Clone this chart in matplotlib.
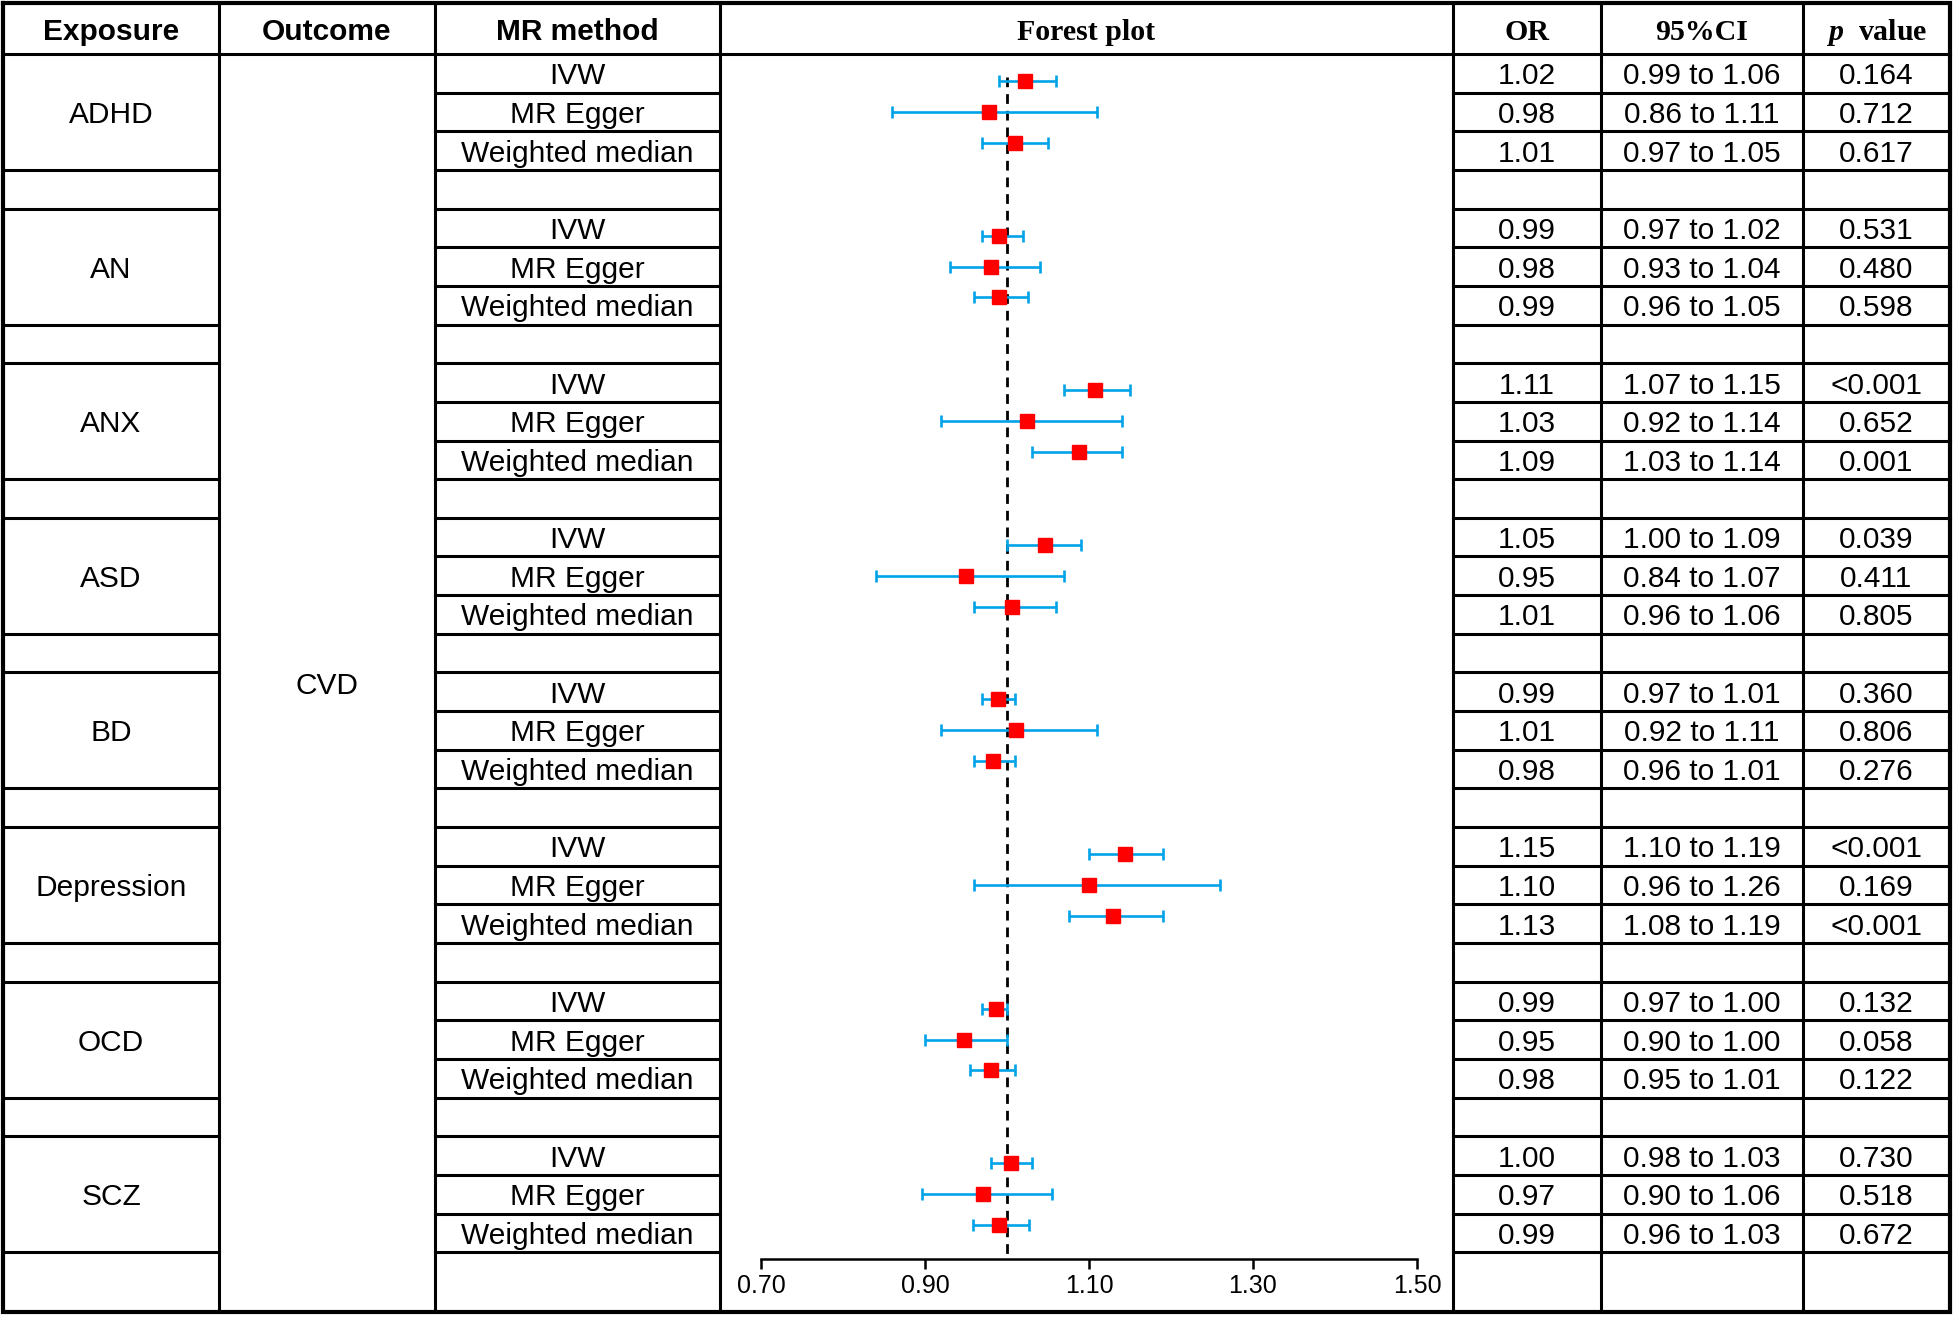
import matplotlib
matplotlib.use("Agg")
import matplotlib.pyplot as plt

plt.rcParams["mathtext.fontset"] = "custom"
plt.rcParams["mathtext.it"] = "Liberation Serif:italic:bold"
plt.rcParams["mathtext.rm"] = "Liberation Serif:bold"

# ---------------------------------------------------------------------------
# Data
# ---------------------------------------------------------------------------
exposures = ["ADHD", "AN", "ANX", "ASD", "BD", "Depression", "OCD", "SCZ"]
outcome = "CVD"
methods = ["IVW", "MR Egger", "Weighted median"]

# plotted estimates, one per exposure x method
or_est = [1.022, 0.978, 1.010,
          0.990, 0.980, 0.990,
          1.107, 1.024, 1.088,
          1.046, 0.950, 1.006,
          0.989, 1.011, 0.983,
          1.144, 1.100, 1.129,
          0.986, 0.947, 0.980,
          1.005, 0.971, 0.990]
ci_low = [0.99, 0.86, 0.97,
          0.97, 0.93, 0.96,
          1.07, 0.92, 1.03,
          1.00, 0.84, 0.96,
          0.97, 0.92, 0.96,
          1.10, 0.96, 1.075,
          0.97, 0.90, 0.955,
          0.98, 0.896, 0.958]
ci_high = [1.06, 1.11, 1.05,
           1.02, 1.04, 1.025,
           1.15, 1.14, 1.14,
           1.09, 1.07, 1.06,
           1.01, 1.11, 1.01,
           1.19, 1.26, 1.19,
           1.00, 1.00, 1.01,
           1.03, 1.055, 1.027]

# table text
or_text = ["1.02", "0.98", "1.01", "0.99", "0.98", "0.99",
           "1.11", "1.03", "1.09", "1.05", "0.95", "1.01",
           "0.99", "1.01", "0.98", "1.15", "1.10", "1.13",
           "0.99", "0.95", "0.98", "1.00", "0.97", "0.99"]
ci_text = ["0.99 to 1.06", "0.86 to 1.11", "0.97 to 1.05",
           "0.97 to 1.02", "0.93 to 1.04", "0.96 to 1.05",
           "1.07 to 1.15", "0.92 to 1.14", "1.03 to 1.14",
           "1.00 to 1.09", "0.84 to 1.07", "0.96 to 1.06",
           "0.97 to 1.01", "0.92 to 1.11", "0.96 to 1.01",
           "1.10 to 1.19", "0.96 to 1.26", "1.08 to 1.19",
           "0.97 to 1.00", "0.90 to 1.00", "0.95 to 1.01",
           "0.98 to 1.03", "0.90 to 1.06", "0.96 to 1.03"]
p_text = ["0.164", "0.712", "0.617", "0.531", "0.480", "0.598",
          "<0.001", "0.652", "0.001", "0.039", "0.411", "0.805",
          "0.360", "0.806", "0.276", "<0.001", "0.169", "<0.001",
          "0.132", "0.058", "0.122", "0.730", "0.518", "0.672"]

x_ticks = [0.70, 0.90, 1.10, 1.30, 1.50]
ref_line = 1.0

# ---------------------------------------------------------------------------
# Layout (pixels)
# ---------------------------------------------------------------------------
W, H = 1955, 1317
cols = [3, 219, 435, 720, 1453, 1601, 1803, 1950]
top, head_bot, bottom = 3, 54, 1312
row_h = 38.65
n_rows = 4 * len(exposures) - 1          # 31 rows incl. spacer rows
row_edges = [head_bot + i * row_h for i in range(n_rows + 1)]
axis_y = 1259
x_lo_px, x_hi_px = 761, 1417

SANS = "Liberation Sans"
SERIF = "Liberation Serif"
FS = 21.5
LW = 2.2
BASE = 11   # baseline offset below row centre

fig = plt.figure(figsize=(W / 100, H / 100), dpi=100)
ax = fig.add_axes([0, 0, 1, 1])
ax.set_xlim(0, W)
ax.set_ylim(H, 0)
ax.axis("off")

# vertical grid lines
for x in cols[1:-1]:
    ax.plot([x, x], [top, bottom], color="black", lw=LW, solid_capstyle="butt")
# outer border
ax.plot([cols[0], cols[-1], cols[-1], cols[0], cols[0]],
        [top, top, bottom, bottom, top], color="black", lw=3.0,
        solid_joinstyle="miter")
# header line
ax.plot([cols[0], cols[-1]], [head_bot, head_bot], color="black", lw=LW)

# horizontal lines per column
for i, y in enumerate(row_edges[1:], start=1):
    if i % 4 in (0, 3):
        ax.plot([cols[0], cols[1]], [y, y], color="black", lw=LW)
    ax.plot([cols[2], cols[3]], [y, y], color="black", lw=LW)
    ax.plot([cols[4], cols[7]], [y, y], color="black", lw=LW)

# headers
hy = (top + head_bot) / 2 + BASE
for j, lab in enumerate(["Exposure", "Outcome", "MR method"]):
    ax.text((cols[j] + cols[j + 1]) / 2, hy, lab, ha="center", va="baseline",
            fontsize=FS, fontweight="bold", family=SANS)
for j, lab in zip([3, 4, 5, 6], ["Forest plot", "OR", "95%CI", r"$p$  value"]):
    ax.text((cols[j] + cols[j + 1]) / 2, hy, lab, ha="center", va="baseline",
            fontsize=FS, fontweight="bold", family=SERIF)

# body text
for g, expo in enumerate(exposures):
    gy = head_bot + (4 * g + 1.5) * row_h
    ax.text((cols[0] + cols[1]) / 2, gy + BASE, expo, ha="center",
            va="baseline", fontsize=FS, family=SANS)
    for k, m in enumerate(methods):
        idx = 3 * g + k
        ry = head_bot + (4 * g + k + 0.5) * row_h + BASE
        ax.text((cols[2] + cols[3]) / 2, ry, m, ha="center", va="baseline",
                fontsize=FS, family=SANS)
        ax.text((cols[4] + cols[5]) / 2, ry, or_text[idx], ha="center",
                va="baseline", fontsize=FS, family=SANS)
        ax.text((cols[5] + cols[6]) / 2, ry, ci_text[idx], ha="center",
                va="baseline", fontsize=FS, family=SANS)
        ax.text((cols[6] + cols[7]) / 2, ry, p_text[idx], ha="center",
                va="baseline", fontsize=FS, family=SANS)

ax.text((cols[1] + cols[2]) / 2, (head_bot + bottom) / 2 + BASE, outcome,
        ha="center", va="baseline", fontsize=FS, family=SANS)

# ---------------------------------------------------------------------------
# Forest plot
# ---------------------------------------------------------------------------
fax = fig.add_axes([x_lo_px / W, 1 - axis_y / H,
                    (x_hi_px - x_lo_px) / W, (axis_y - head_bot) / H])
y_bottom = (axis_y - head_bot) / row_h
fax.set_xlim(x_ticks[0], x_ticks[-1])
fax.set_ylim(y_bottom, 0)
fax.patch.set_alpha(0)

ys = []
for g in range(len(exposures)):
    for k in range(len(methods)):
        ys.append(4 * g + 1.5 + (k - 1) * 0.8)

fax.plot([ref_line, ref_line], [0.6, y_bottom], color="black", lw=2.0,
         dashes=(3.5, 2.5), zorder=1)
xerr = [[o - l for o, l in zip(or_est, ci_low)],
        [h - o for o, h in zip(or_est, ci_high)]]
fax.errorbar(or_est, ys, xerr=xerr, fmt="none", ecolor="#00A2E8",
             elinewidth=1.9, capsize=4.5, capthick=1.9, zorder=2)
fax.plot(or_est, ys, "s", color="#FF0000", ms=10, mec="#FF0000", zorder=3)

for s in ["top", "left", "right"]:
    fax.spines[s].set_visible(False)
fax.spines["bottom"].set_linewidth(1.8)
fax.set_yticks([])
fax.set_xticks(x_ticks)
fax.set_xticklabels([f"{t:.2f}" for t in x_ticks], family=SANS, fontsize=18)
fax.tick_params(axis="x", direction="out", length=7, width=1.8, pad=4)

fig.savefig("out.png", dpi=100)
plt.close(fig)
